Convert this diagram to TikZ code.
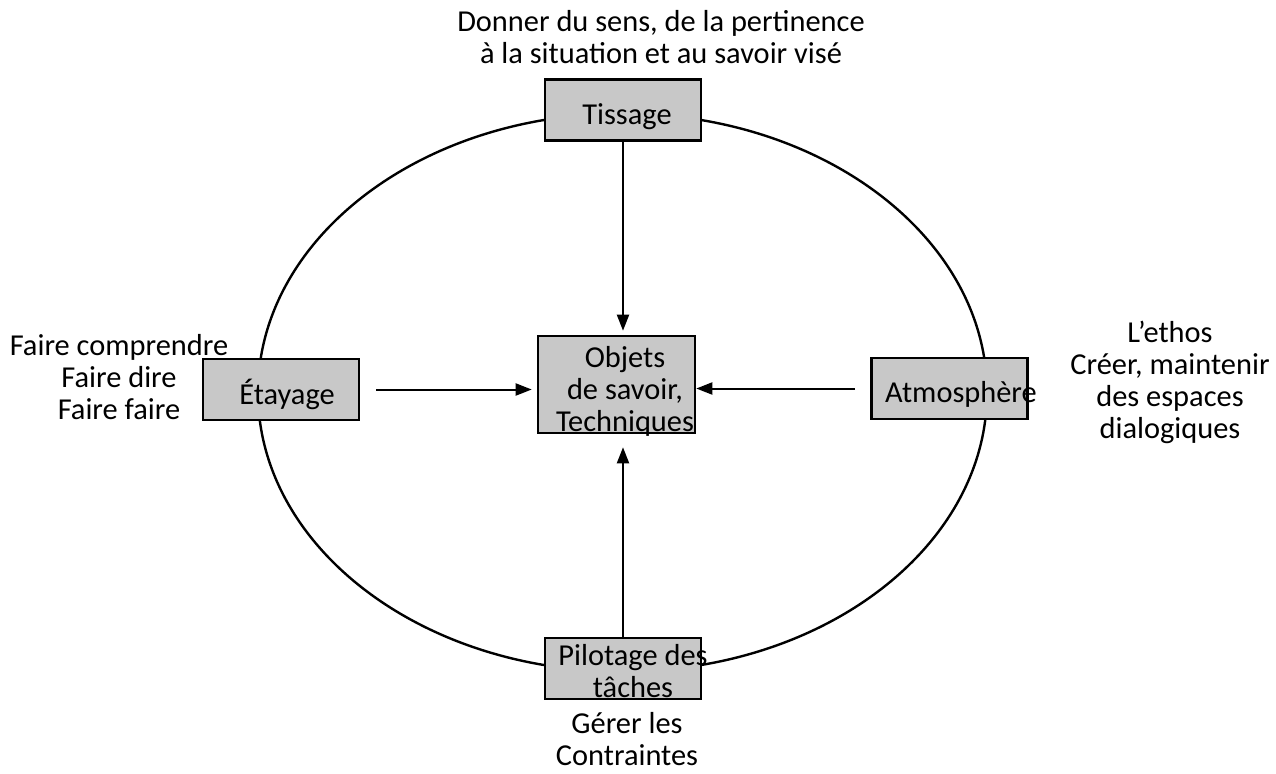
\documentclass[tikz,border=0pt]{standalone}
\usepackage{fontspec}
\setmainfont{Carlito}
\usetikzlibrary{arrows.meta}
\definecolor{boxgray}{RGB}{200,200,200}
\tikzset{>={Triangle[length=8pt, width=6pt]}}
\tikzset{
	gbox/.style = {draw, line width = 1.3pt, fill = boxgray, minimum width = 78pt, minimum height = 30.5pt, inner sep = 0pt},
	btext/.style = {align = center, inner sep = 0pt, font = \fontsize{15.2}{16}\selectfont},
	link/.style = {->, line width = 1pt}
}

\begin{document}
\begin{tikzpicture}[x = 0.5pt, y = -0.5pt]
	\useasboundingbox (0,0) rectangle (1276,773);
	\draw [line width = 1.2pt] (622.5,392.5) ellipse [x radius = 364.5, y radius = 279];
	% boxes
	\node [gbox] (tissage) at (623,110) {};
	\node [gbox] (etayage) at (281,389.5) {};
	\node [gbox] (atmos) at (949.5,388.5) {};
	\node [gbox] (pilotage) at (623,668.5) {};
	\node [gbox, minimum width = 78.5pt, minimum height = 48.5pt] (objets) at (616.5,384.5) {};
	% texts in the boxes
	\node [btext, anchor = base] (tissage-txt) at (627,124) {Tissage};
	\node [btext, anchor = base] (etayage-txt) at (287,404) {Étayage};
	\node [btext, anchor = base] (atmos-txt) at (961,402) {Atmosphère};
	\node [btext] (pilotage-txt) at (633,671.5) {Pilotage des\\tâches};
	\node [btext] (objets-txt) at (625,391) {Objets\\de savoir,\\Techniques};
	% texts round the ellipse
	\node [btext] (sens) at (661,37) {Donner du sens, de la pertinence\\à la situation et au savoir visé};
	\node [btext] (faire) at (119,377) {Faire comprendre\\Faire dire\\Faire faire};
	\node [btext] (ethos) at (1170,382.5) {L’ethos\\Créer, maintenir\\des espaces\\dialogiques};
	\node [btext] (gerer) at (627,739) {Gérer les\\Contraintes};
	% arrows
	\draw [link, shorten >= 2pt] (tissage.south) -- (tissage.south |- objets.north);
	\draw [link, shorten <= 8pt, shorten >= 2.5pt] (etayage.east) -- (etayage.east -| objets.west);
	\draw [link, shorten <= 7.5pt] (atmos.west) -- (atmos.west -| objets.east);
	\draw [link, shorten >= 6.5pt] (pilotage.north) -- (pilotage.north |- objets.south);
\end{tikzpicture}
\end{document}
